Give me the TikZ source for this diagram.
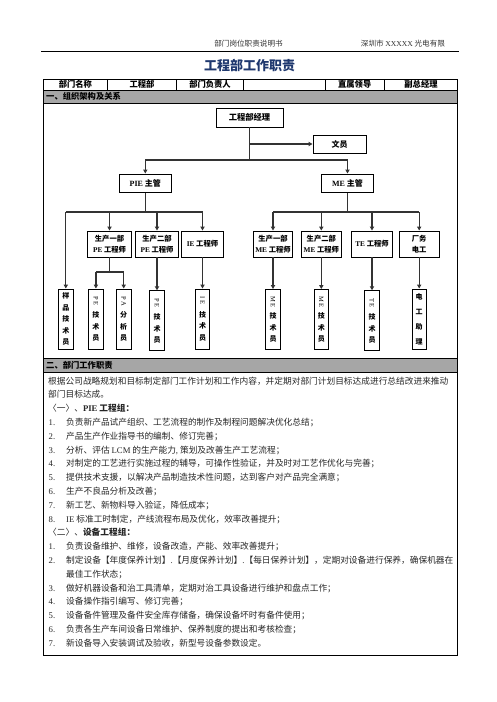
\documentclass[tikz,border=0pt]{standalone}
\usepackage{fontspec}
\usepackage{graphicx}
\setmainfont{Liberation Serif}
\newfontfamily\cjk{Noto Sans CJK SC}
\usetikzlibrary{arrows.meta}
\definecolor{navy}{RGB}{31,56,110}
\newcommand\rlat[1]{\rotatebox[origin=c]{-90}{\rmfamily\mdseries\fontsize{6.5}{6.5}\selectfont #1}}
\begin{document}
\begin{tikzpicture}[x=1pt,y=-1pt,
  hdr/.style={inner sep=0pt,font=\cjk\fontsize{7.6}{7.6}\selectfont,text=black!80},
  cell/.style={inner sep=0pt,font=\cjk\bfseries\fontsize{8.3}{8.3}\selectfont},
  box/.style={draw,line width=0.9pt,fill=white,inner sep=0pt,align=center,font=\cjk\bfseries\fontsize{7.3}{11}\selectfont},
  vbox/.style={draw,line width=0.9pt,fill=white,inner sep=0pt,minimum width=14.5pt,minimum height=60pt,align=center,font=\cjk\bfseries\fontsize{7}{11.5}\selectfont},
  conn/.style={line width=1.3pt,draw=black!80,-{Triangle[length=4pt,width=4.2pt]}},
  wire/.style={line width=1.3pt,draw=black!80},
  trunk/.style={line width=1.9pt,draw=black!80},
  body/.style={anchor=base west,inner sep=0pt,font=\cjk\fontsize{8.7}{8.7}\selectfont,text=black!85},
  num/.style={anchor=base west,inner sep=0pt,font=\rmfamily\fontsize{8.7}{8.7}\selectfont,text=black!85}]
\useasboundingbox (0,0) rectangle (496,702);
\fill[white] (0,0) rectangle (496,702);

% page header
\node[hdr] (h1) at (248.5,44) {部门岗位职责说明书};
\node[hdr] (h2) at (403,44) {深圳市 {\rmfamily XXXXX} 光电有限};
\draw[line width=0.7pt] (41,51.5) -- (459,51.5);
\node[inner sep=0pt,font=\cjk\bfseries\fontsize{13}{13}\selectfont,text=navy] (title) at (249.5,66) {工程部工作职责};

% table
\fill[black!35] (43.5,90) rectangle (457.5,103);
\fill[black!35] (43.5,358) rectangle (457.5,372);
\draw[line width=0.9pt] (43.5,79) rectangle (457.5,655);
\draw[line width=0.7pt] (43.5,90) -- (457.5,90) (43.5,103) -- (457.5,103)
  (43.5,358) -- (457.5,358) (43.5,372) -- (457.5,372);
\foreach \xx in {107.3,176.7,243.3,325,384.3} \draw[line width=0.7pt] (\xx,79) -- (\xx,90);
\node[cell] (c1) at (75.4,84.7) {部门名称};
\node[cell] (c2) at (142,84.7) {工程部};
\node[cell] (c3) at (210,84.7) {部门负责人};
\node[cell] (c5) at (354.7,84.7) {直属领导};
\node[cell] (c6) at (421,84.7) {副总经理};
\node[cell,anchor=west] (s1) at (46,96.7) {一、组织架构及关系};
\node[cell,anchor=west] (s2) at (46,365.2) {二、部门工作职责};

% org chart boxes
\node[box,minimum width=67pt,minimum height=19pt,font=\cjk\bfseries\fontsize{8.3}{10}\selectfont] (mgr) at (249.5,117.5) {工程部经理};
\node[box,minimum width=53pt,minimum height=18pt,font=\cjk\bfseries\fontsize{8}{10}\selectfont] (clerk) at (339.5,144) {文员};
\node[box,minimum width=52.7pt,minimum height=18.7pt,font=\cjk\bfseries\fontsize{8}{10}\selectfont] (pie) at (145.3,183.3) {{\rmfamily PIE} 主管};
\node[box,minimum width=51.7pt,minimum height=18.7pt,font=\cjk\bfseries\fontsize{8}{10}\selectfont] (me) at (347.5,183.3) {{\rmfamily ME} 主管};

\node[box,minimum width=44.4pt,minimum height=26pt] (pe1) at (109.5,244) {生产一部\\{\rmfamily PE} 工程师};
\node[box,minimum width=42.6pt,minimum height=26pt] (pe2) at (157,244) {生产二部\\{\rmfamily PE} 工程师};
\node[box,minimum width=41.6pt,minimum height=26pt] (ie) at (202.5,244) {{\rmfamily IE} 工程师};
\node[box,minimum width=39.4pt,minimum height=26pt] (me1) at (273,244) {生产一部\\{\rmfamily ME} 工程师};
\node[box,minimum width=40.7pt,minimum height=26pt] (me2) at (321.3,244) {生产二部\\{\rmfamily ME} 工程师};
\node[box,minimum width=40.6pt,minimum height=26pt] (te) at (372,244) {{\rmfamily TE} 工程师};
\node[box,minimum width=40.3pt,minimum height=26pt] (fw) at (419.2,244) {厂务\\电工};

\node[vbox] (smp) at (65.8,319) {样\\品\\技\\术\\员};
\node[vbox] (pet1) at (95.9,319) {\rlat{P E}\\[3pt]技\\术\\员};
\node[vbox] (pa) at (123.7,319) {\rlat{P A}\\[3pt]分\\析\\员};
\node[vbox] (pet2) at (157,320.8) {\rlat{P E}\\[3pt]技\\术\\员};
\node[vbox] (iet) at (202.5,319) {\rlat{I E}\\[3pt]技\\术\\员};
\node[vbox] (met1) at (273,319.5) {\rlat{M E}\\[3pt]技\\术\\员};
\node[vbox] (met2) at (321.3,319.5) {\rlat{M E}\\[3pt]技\\术\\员};
\node[vbox] (tet) at (372,320.7) {\rlat{T E}\\[3pt]技\\术\\员};
\node[vbox,font=\cjk\bfseries\fontsize{7}{15}\selectfont] (eh) at (419.2,319) {电\\工\\助\\理};

% connectors
\coordinate (j0) at (249.5,160);
\coordinate (b1) at (145.3,212);
\coordinate (b2) at (347.5,212);
\coordinate (b3) at (109.5,272);
\draw[trunk] (mgr.south) -- (j0);
\draw[conn] (mgr.south |- clerk.west) -- (clerk.west);
\draw[wire] (pie.north |- j0) -- (me.north |- j0);
\draw[conn] (pie.north |- j0) -- (pie.north);
\draw[conn] (me.north |- j0) -- (me.north);

\draw[wire] (pie.south) -- (b1);
\draw[wire] (smp.north |- b1) -- (ie.north |- b1);
\draw[conn] (smp.north |- b1) -- (smp.north);
\draw[conn] (pe1.north |- b1) -- (pe1.north);
\draw[conn] (pe2.north |- b1) -- (pe2.north);
\draw[conn] (ie.north |- b1) -- (ie.north);

\draw[wire] (me.south) -- (b2);
\draw[wire] (me1.north |- b2) -- (fw.north |- b2);
\draw[conn] (me1.north |- b2) -- (me1.north);
\draw[conn] (me2.north |- b2) -- (me2.north);
\draw[conn] (te.north |- b2) -- (te.north);
\draw[conn] (fw.north |- b2) -- (fw.north);

\draw[wire] (pe1.south) -- (b3);
\draw[wire] (pet1.north |- b3) -- (pa.north |- b3);
\draw[conn] (pet1.north |- b3) -- (pet1.north);
\draw[conn] (pa.north |- b3) -- (pa.north);
\draw[conn] (pe2.south) -- (pet2.north);
\draw[conn] (ie.south) -- (iet.north);
\draw[conn] (me1.south) -- (met1.north);
\draw[conn] (me2.south) -- (met2.north);
\draw[conn] (te.south) -- (tet.north);
\draw[conn] (fw.south) -- (eh.north);

% body text
\node[body] (t0) at (48,384) {根据公司战略规划和目标制定部门工作计划和工作内容，并定期对部门计划目标达成进行总结改进来推动};
\node[body] (t1) at (48,397.8) {部门目标达成。};
\node[body] (t2) at (48,411.6) {〈一〉、\textbf{{\rmfamily PIE} 工程组：}};
\node[num] (n3) at (48.5,425.4) {1.};
\node[body] (t3) at (66,425.4) {负责新产品试产组织、工艺流程的制作及制程问题解决优化总结；};
\node[num] (n4) at (48.5,439.2) {2.};
\node[body] (t4) at (66,439.2) {产品生产作业指导书的编制、修订完善；};
\node[num] (n5) at (48.5,453) {3.};
\node[body] (t5) at (66,453) {分析、评估 {\rmfamily LCM} 的生产能力{\rmfamily ,} 策划及改善生产工艺流程；};
\node[num] (n6) at (48.5,466.8) {4.};
\node[body] (t6) at (66,466.8) {对制定的工艺进行实施过程的辅导，可操作性验证，并及时对工艺作优化与完善；};
\node[num] (n7) at (48.5,480.6) {5.};
\node[body] (t7) at (66,480.6) {提供技术支援，以解决产品制造技术性问题，达到客户对产品完全满意；};
\node[num] (n8) at (48.5,494.4) {6.};
\node[body] (t8) at (66,494.4) {生产不良品分析及改善；};
\node[num] (n9) at (48.5,508.2) {7.};
\node[body] (t9) at (66,508.2) {新工艺、新物料导入验证，降低成本；};
\node[num] (n10) at (48.5,522) {8.};
\node[body] (t10) at (66,522) {{\rmfamily IE} 标准工时制定，产线流程布局及优化，效率改善提升；};
\node[body] (t11) at (48,535.8) {〈二〉、\textbf{设备工程组：}};
\node[num] (n12) at (48.5,549.6) {1.};
\node[body] (t12) at (66,549.6) {负责设备维护、维修，设备改造，产能、效率改善提升；};
\node[num] (n13) at (48.5,563.4) {2.};
\node[body] (t13) at (66,563.4) {制定设备【年度保养计划】{\rmfamily .}【月度保养计划】{\rmfamily .}【每日保养计划】，定期对设备进行保养，确保机器在};
\node[body] (t14) at (66,577.2) {最佳工作状态；};
\node[num] (n15) at (48.5,591) {3.};
\node[body] (t15) at (66,591) {做好机器设备和治工具清单，定期对治工具设备进行维护和盘点工作；};
\node[num] (n16) at (48.5,604.8) {4.};
\node[body] (t16) at (66,604.8) {设备操作指引编写、修订完善；};
\node[num] (n17) at (48.5,618.6) {5.};
\node[body] (t17) at (66,618.6) {设备备件管理及备件安全库存储备，确保设备坏时有备件使用；};
\node[num] (n18) at (48.5,632.4) {6.};
\node[body] (t18) at (66,632.4) {负责各生产车间设备日常维护、保养制度的提出和考核检查；};
\node[num] (n19) at (48.5,646.2) {7.};
\node[body] (t19) at (66,646.2) {新设备导入安装调试及验收，新型号设备参数设定。};
\end{tikzpicture}
\end{document}
